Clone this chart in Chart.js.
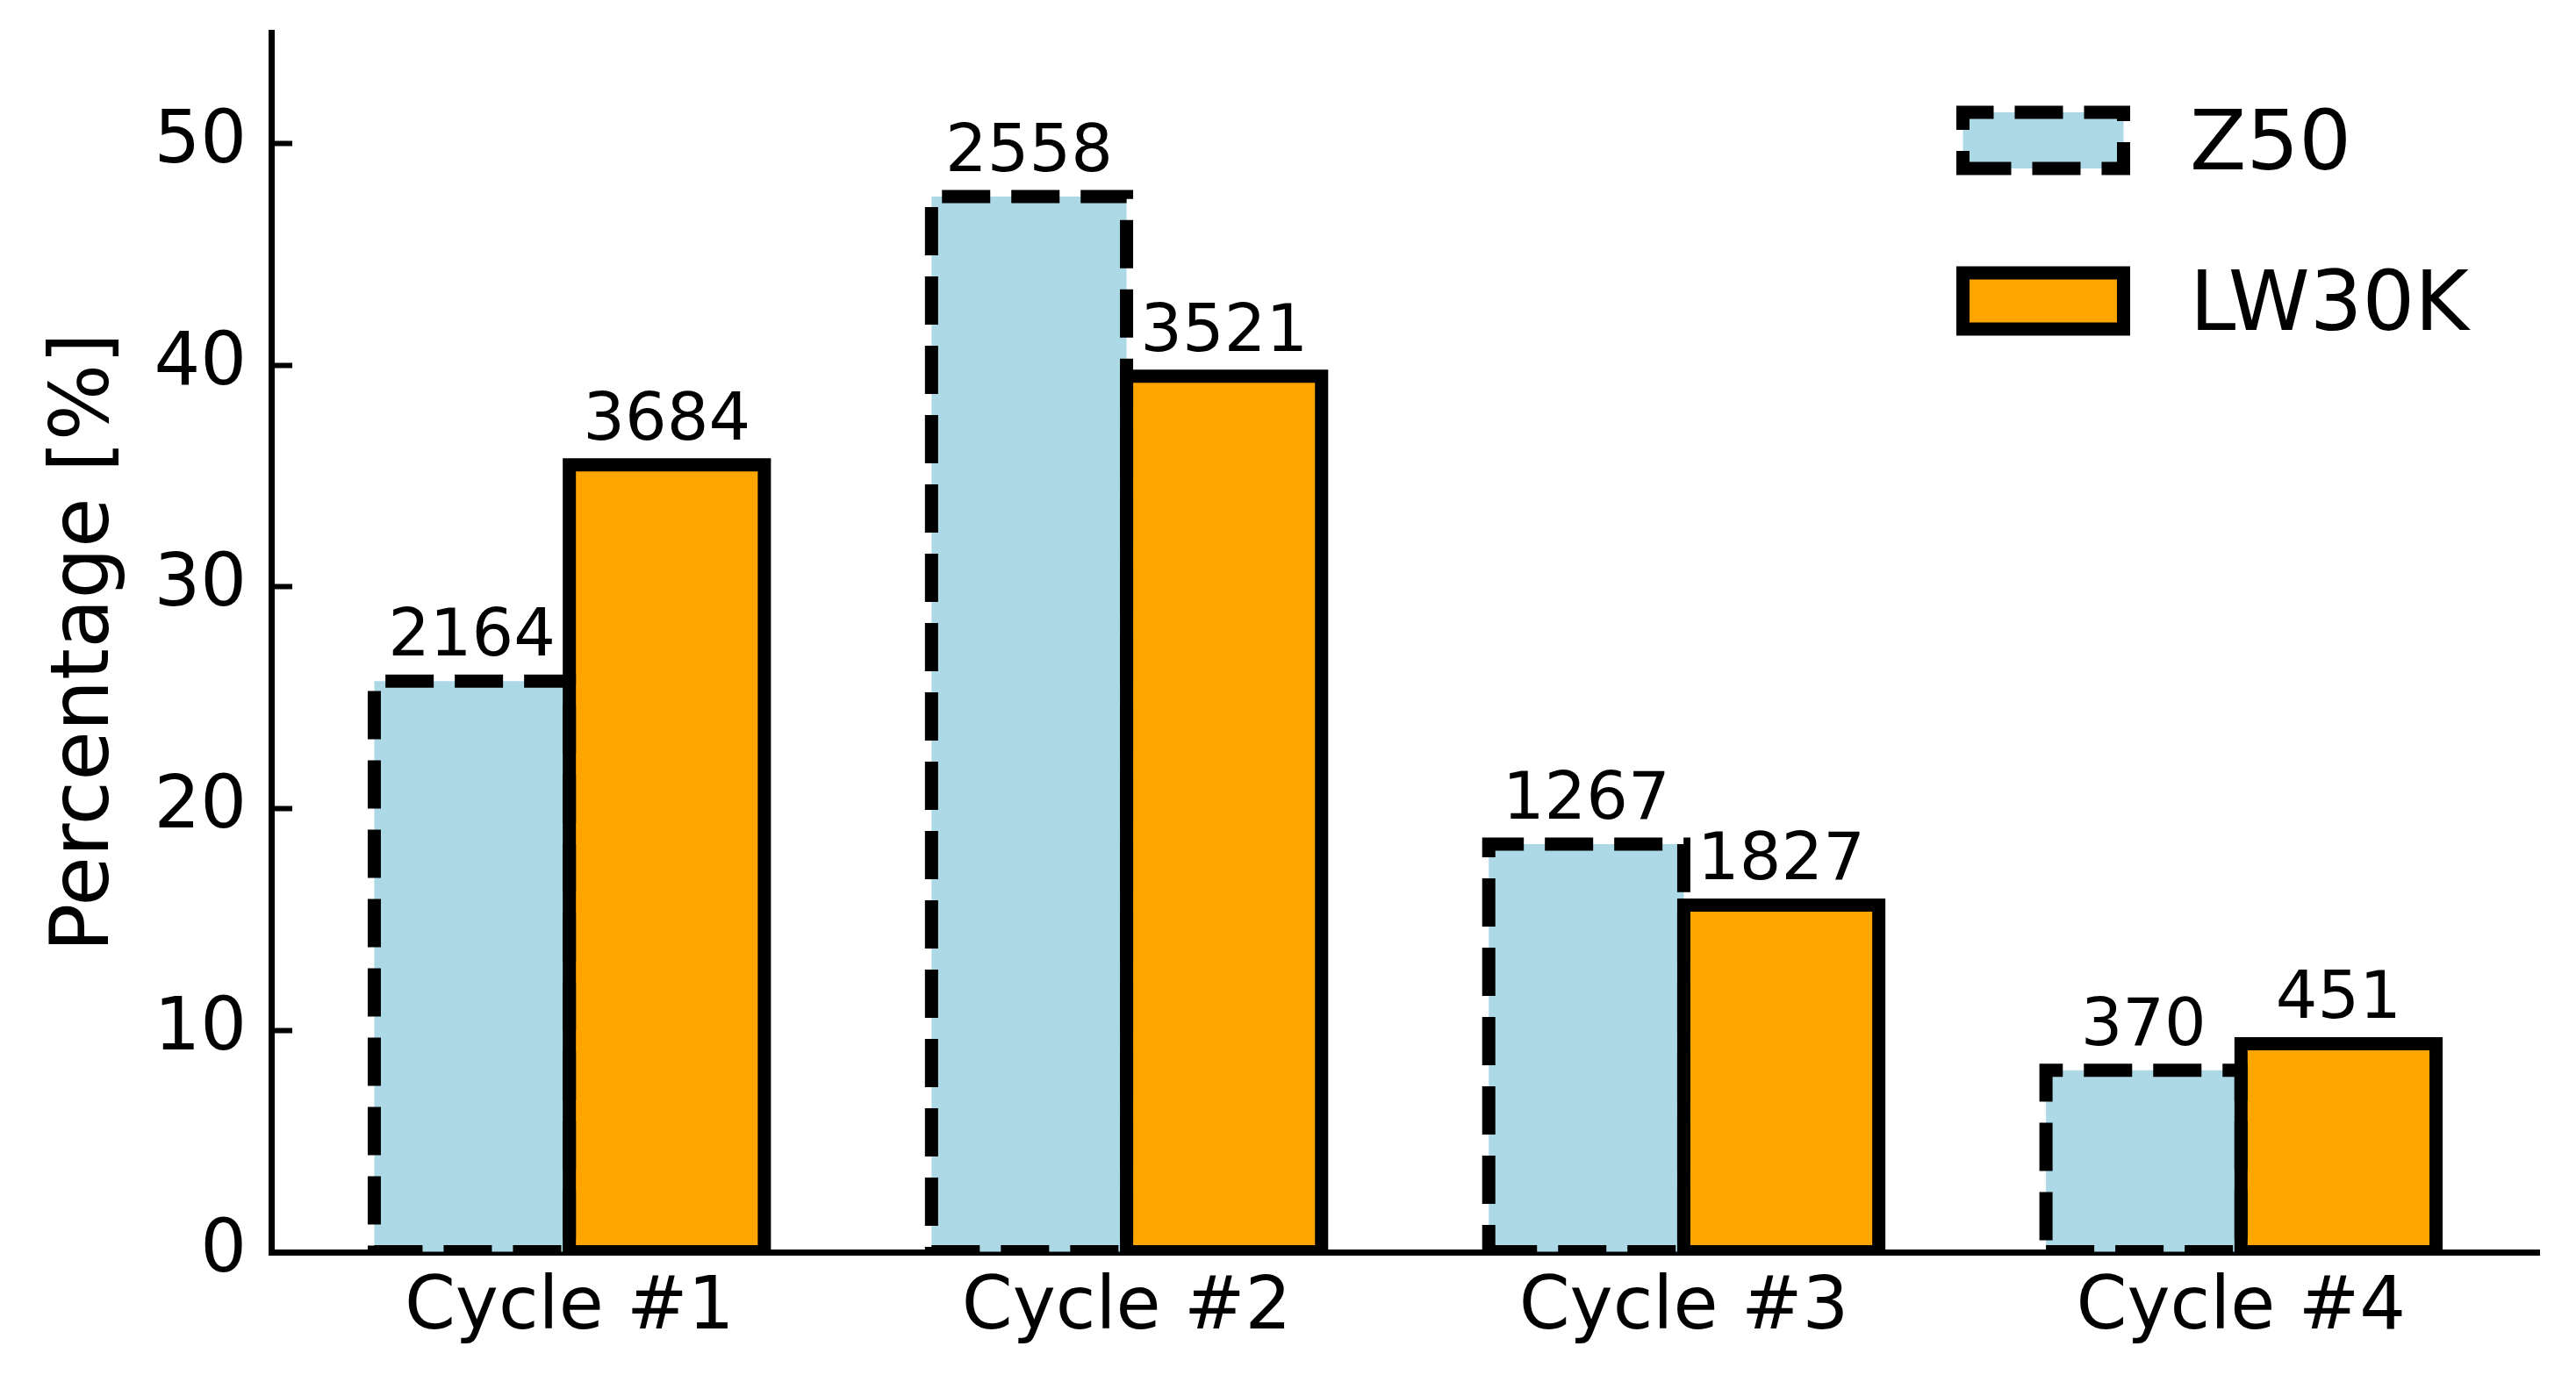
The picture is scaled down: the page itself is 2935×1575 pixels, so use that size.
<!DOCTYPE html>
<html>
<head>
<meta charset="utf-8">
<script src="https://cdn.jsdelivr.net/npm/chart.js@4.4.0/dist/chart.umd.min.js"></script>
<style>
html, body { margin: 0; padding: 0; background: #fff; }
#wrap { width: 2935px; height: 1575px; }
</style>
</head>
<body>
<div id="wrap"><canvas id="chart0"></canvas></div>
<script>
// data
var categories = ['Cycle #1', 'Cycle #2', 'Cycle #3', 'Cycle #4'];
var seriesNames = ['Z50', 'LW30K'];
var z50Values = [25.75, 47.6, 18.4, 8.2];
var lw30kValues = [35.5, 39.5, 15.65, 9.4];
var z50Counts = [2164, 2558, 1267, 370];
var lw30kCounts = [3684, 3521, 1827, 451];
var yTicks = [0, 10, 20, 30, 40, 50];

var FONT = '"DejaVu Sans", sans-serif';
var EDGE = 15;
var dashes = [[55, 24], []];
var counts = [z50Counts, lw30kCounts];

function rectPath(ctx, x0, x1, yb, yt) {
    // same winding as a matplotlib Rectangle: bottom-left, right, up, left
    ctx.beginPath();
    ctx.moveTo(x0, yb);
    ctx.lineTo(x1, yb);
    ctx.lineTo(x1, yt);
    ctx.lineTo(x0, yt);
    ctx.closePath();
}

// chart.js wants room for half a tick label at each end, we don't
function noPad(s) {
    s.paddingTop = 0;
    s.paddingBottom = 0;
    s.paddingLeft = 0;
    s.paddingRight = 0;
}

var edgePlugin = {
    id: 'edges',
    afterDatasetsDraw(chart) {
        var ctx = chart.ctx;
        var area = chart.chartArea;
        ctx.save();
        ctx.beginPath();
        ctx.rect(area.left, area.top, area.right - area.left, area.bottom - area.top);
        ctx.clip();
        ctx.lineWidth = EDGE;
        ctx.strokeStyle = '#000';
        ctx.lineJoin = 'miter';
        ctx.lineCap = 'butt';
        chart.data.datasets.forEach(function (ds, i) {
            ctx.setLineDash(dashes[i]);
            chart.getDatasetMeta(i).data.forEach(function (bar) {
                var p = bar.getProps(['x', 'y', 'base', 'width'], true);
                rectPath(ctx, p.x - p.width / 2, p.x + p.width / 2, p.base, p.y);
                ctx.stroke();
            });
        });
        ctx.restore();

        // numbers over the bars
        ctx.save();
        ctx.fillStyle = '#000';
        ctx.font = '75px ' + FONT;
        ctx.textAlign = 'center';
        ctx.textBaseline = 'alphabetic';
        chart.data.datasets.forEach(function (ds, i) {
            chart.getDatasetMeta(i).data.forEach(function (bar, j) {
                ctx.fillText(String(counts[i][j]), bar.x, bar.y - 29);
            });
        });
        ctx.restore();
    }
};

var legendPlugin = {
    id: 'boxLegend',
    afterDraw(chart) {
        var ctx = chart.ctx;
        var bx = 2236.5, bw = 183, bh = 64;
        chart.data.datasets.forEach(function (ds, i) {
            var cy = 160 + i * 183;
            ctx.save();
            ctx.fillStyle = ds.backgroundColor;
            ctx.fillRect(bx, cy - bh / 2, bw, bh);
            ctx.lineWidth = EDGE;
            ctx.strokeStyle = '#000';
            ctx.lineJoin = 'miter';
            ctx.setLineDash(dashes[i]);
            rectPath(ctx, bx, bx + bw, cy + bh / 2, cy - bh / 2);
            ctx.stroke();
            ctx.setLineDash([]);
            ctx.fillStyle = '#000';
            ctx.font = '94px ' + FONT;
            ctx.textAlign = 'left';
            ctx.textBaseline = 'alphabetic';
            ctx.fillText(ds.label, 2495, cy + 33);
            ctx.restore();
        });
    }
};

var chart_data = {
    type: 'bar',
    data: {
        datasets: [{
            label: seriesNames[0],
            backgroundColor: '#ADD8E6',
            borderWidth: 0,
            data: categories.map(function (c, i) { return {x: i, y: z50Values[i]}; })
        }, {
            label: seriesNames[1],
            backgroundColor: '#FFA500',
            borderWidth: 0,
            data: categories.map(function (c, i) { return {x: i, y: lw30kValues[i]}; })
        }]
    },
    options: {
        responsive: true,
        maintainAspectRatio: false,
        animation: false,
        devicePixelRatio: 1,
        categoryPercentage: 0.7,
        barPercentage: 1.0,
        layout: { padding: { top: 37, right: 42, bottom: 0, left: 0 } },
        plugins: {
            legend: { display: false },
            tooltip: { enabled: false }
        },
        scales: {
            x: {
                type: 'linear',
                min: -0.535,
                max: 3.535,
                offset: false,
                z: 1,
                afterBuildTicks: function (s) { s.ticks = categories.map(function (c, i) { return {value: i}; }); },
                afterFit: function (s) { s.height = 148; noPad(s); },
                grid: { display: true, drawOnChartArea: false, drawTicks: false },
                border: { display: true, color: '#000', width: 7 },
                ticks: {
                    autoSkip: false,
                    maxRotation: 0,
                    padding: 16,
                    color: '#000',
                    font: { family: FONT, size: 83 },
                    callback: function (v) { return categories[v]; }
                }
            },
            y: {
                min: 0,
                max: 55,
                afterBuildTicks: function (s) { s.ticks = yTicks.map(function (v) { return {value: v}; }); },
                afterFit: function (s) { s.width = 309; noPad(s); },
                grid: { drawOnChartArea: false, drawTicks: true, tickLength: -24, tickWidth: 6, tickColor: '#000' },
                border: { display: true, color: '#000', width: 7 },
                ticks: { padding: 52, color: '#000', font: { family: FONT, size: 83 } },
                title: {
                    display: true,
                    text: 'Percentage [%]',
                    color: '#000',
                    font: { family: FONT, size: 92 },
                    padding: { top: 44, bottom: 0 }
                }
            }
        }
    },
    plugins: [edgePlugin, legendPlugin]
};

var ctx = document.getElementById('chart0').getContext('2d');
var chart = new Chart(ctx, chart_data);
</script>
</body>
</html>
